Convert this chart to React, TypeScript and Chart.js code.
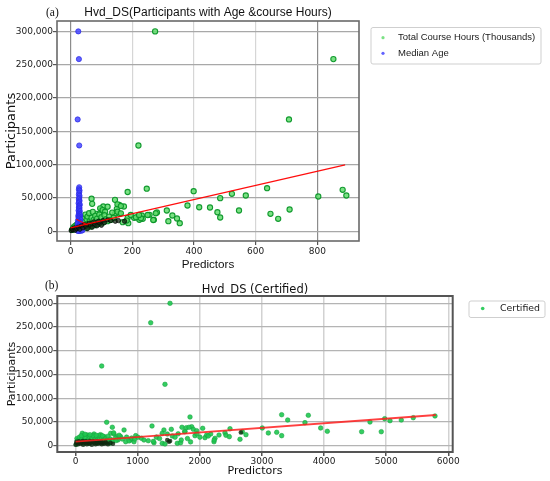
import React, { useEffect, useRef } from 'react';
import { Chart, registerables } from 'chart.js';

Chart.register(...registerables);

// ---------- Panel (a) data ----------
const courseHoursPoints: number[][] = [
  [274, 300000], [852, 258400], [708, 167800], [220, 128700],
  [185, 58900], [247, 63800], [399, 60100], [379, 38600], [417, 36000], [452, 35600], [476, 28500],
  [485, 49600], [485, 20600], [523, 56200], [546, 31100], [568, 53600], [637, 64600], [648, 26100],
  [673, 18600], [710, 32600], [803, 52100], [882, 62200], [894, 53600],
  [270, 17100], [256, 24600], [280, 28100], [312, 31100], [317, 15000], [330, 23600], [345, 19100], [354, 12000],
  [217, 21000], [231, 23600], [223, 17100], [206, 20100], [234, 18600], [185, 20100], [187, 12000], [182, 16000],
  [144, 47100], [173, 37100], [158, 39600], [150, 33600], [144, 26100], [158, 26100], [169, 13500],
  [68, 48700], [70, 41100], [106, 37100], [101, 32100], [85, 26100],
  [96, 34400], [104, 31800], [112, 29300], [120, 36800], [152, 40400], [163, 37800], [152, 29300], [163, 26900],
  [195, 24300], [212, 20900], [228, 19400], [222, 24300], [250, 24300], [276, 26900], [268, 16800],
  [5, 2000], [8, 4000], [10, 6000], [12, 3000], [15, 8000], [18, 5000], [20, 10000], [22, 7000], [25, 12000],
  [28, 4000], [30, 9000], [33, 15000], [35, 6000], [38, 11000], [40, 20000], [42, 8000], [45, 14000], [48, 25000],
  [50, 5000], [52, 18000], [55, 22000], [58, 10000], [60, 27000], [62, 15000], [65, 7000], [68, 20000], [70, 12000],
  [72, 29000], [75, 17000], [78, 9000], [80, 23000], [83, 14000], [86, 19000], [90, 11000], [93, 25000], [97, 16000],
  [100, 21000], [105, 13000], [110, 24000], [115, 18000], [120, 15000], [125, 22000], [130, 17000], [135, 28000], [140, 20000],
];

const medianAgePoints: number[][] = [
  [25, 300000], [27, 258400], [23, 167800], [28, 128700],
  [28, 66000], [27, 63000], [29, 61000], [28, 58000], [27, 55000], [29, 53000], [28, 50000], [27, 48000],
  [29, 46000], [28, 44000], [26, 42000], [30, 40000], [28, 38000], [27, 36000], [29, 35000], [28, 33000],
  [26, 31000], [30, 30000], [28, 28000], [27, 26000], [29, 25000], [31, 24000], [25, 23000], [28, 22000],
  [30, 21000], [26, 20000], [29, 19000], [27, 18000], [32, 17000], [24, 16000], [28, 15000], [30, 14000],
  [26, 13000], [33, 12000], [23, 11000], [29, 10000], [31, 9000], [27, 8000], [35, 7000], [22, 6000],
  [30, 5000], [25, 4000], [33, 3500], [28, 3000], [36, 2500], [21, 2000], [31, 1500], [26, 1000],
  [34, 800], [29, 500], [38, 1200], [24, 300],
];

const denseAPoints: number[][] = [
  [2, 1000], [5, 3000], [8, 2000], [12, 5000], [15, 1500], [20, 4000], [25, 6000], [30, 3000], [35, 8000],
  [40, 5000], [45, 10000], [50, 7000], [55, 4000], [60, 12000], [65, 9000], [70, 6000], [75, 14000], [80, 10000],
  [85, 8000], [90, 15000], [95, 12000], [100, 9000], [105, 16000], [110, 13000], [120, 17000], [130, 16000],
  [145, 15000], [155, 16000], [175, 15000],
];

const fitCourseA: number[][] = [[0, 5000], [890, 99500]];
const fitAgeA: number[][] = [[19, 17900], [55, 9300]];

const xTicksA = [0, 200, 400, 600, 800];
const yTicks = [0, 50000, 100000, 150000, 200000, 250000, 300000];

// ---------- Panel (b) data ----------
const certifiedPoints: number[][] = [
  [1519, 300000], [1208, 259100], [419, 167900], [1438, 129300], [499, 49300], [590, 38800], [1229, 41500], [1841, 60500],
  [3317, 65300], [3414, 54100], [3746, 64000], [3692, 48500], [3945, 37300], [4052, 30300], [4605, 29500], [4739, 49900],
  [4921, 29500], [4976, 56900], [5061, 52700], [5243, 54100], [5436, 59000], [5786, 62600], [3005, 37300], [3102, 26800],
  [3237, 28200], [3317, 21100],
  [1868, 40000], [1894, 34500], [1948, 31600], [1921, 21100], [2045, 36600], [2082, 16900], [2109, 22500], [2174, 24600],
  [2135, 20400], [2243, 15600], [2227, 8400], [2308, 22500], [2404, 27400], [2420, 21900], [2485, 35800], [2474, 19000],
  [2646, 13500], [2683, 29500], [2742, 23200],
  [779, 33100], [1421, 33100], [1540, 34500], [1712, 38800], [1755, 29500], [1781, 37900], [1825, 38800],
  [1636, 5000], [1690, 6300], [966, 21100], [1057, 15600], [1169, 10500], [1261, 6300], [724, 19000], [805, 8400],
  [886, 12000], [939, 8400], [1394, 26100], [1475, 24600], [1394, 5000], [1438, 3600], [1556, 20400], [563, 26100],
  [617, 24600], [670, 19000], [106, 26100], [187, 22500], [295, 24600], [402, 23200],
  [1100, 12000], [1250, 9000], [1300, 18000], [1350, 15000], [1600, 18000], [1650, 25000], [1700, 12000], [1800, 15000],
  [1850, 8000], [1950, 25000], [2000, 18000], [1760, 30000], [2230, 12000],
  [20, 15000], [40, 12000], [60, 18000], [80, 9000], [100, 14000], [120, 20000], [140, 11000], [160, 17000], [180, 8000],
  [200, 13000], [220, 19000], [240, 10000], [260, 16000], [280, 21000], [300, 12000], [320, 7000], [340, 18000], [360, 14000],
  [380, 22000], [400, 9000], [420, 16000], [440, 12000], [460, 19000], [480, 15000], [500, 11000], [520, 20000], [540, 8000],
  [560, 14000], [600, 10000], [640, 16000], [680, 12000], [700, 22000], [750, 14000], [820, 18000], [860, 10000], [900, 16000],
  [950, 14000], [1000, 18000], [30, 5000], [90, 21000], [150, 24000], [230, 23000], [330, 22000], [430, 21000], [610, 27000],
  [650, 11000], [10, 3000], [50, 7000], [130, 6000], [210, 5000], [350, 6000], [470, 7000], [550, 5000],
];

const denseBPoints: number[][] = [
  [0, 2000], [20, 5000], [40, 3000], [60, 7000], [80, 4000], [100, 6000], [120, 2000], [140, 8000], [160, 5000],
  [180, 3000], [200, 7000], [220, 4000], [240, 6000], [260, 2000], [280, 8000], [300, 5000], [320, 3000], [340, 6000],
  [360, 4000], [380, 7000], [400, 5000], [420, 3000], [440, 6000], [460, 4000], [480, 8000], [500, 5000], [520, 3000],
  [560, 6000], [600, 4000], [10, 8000], [50, 9000], [110, 10000], [170, 9000], [230, 10000], [290, 9000], [350, 10000],
  [410, 9000], [1475, 12000], [1503, 8400], [1520, 10000], [2660, 28000],
];

const fitCertifiedB: number[][] = [[0, 8400], [5800, 64700]];
const xTicksB = [0, 1000, 2000, 3000, 4000, 5000, 6000];

// ---------- helpers ----------
const toXY = (arr: number[][]) => arr.map(([x, y]) => ({ x, y }));
const fmtThousands = (v: number) => Math.round(v).toLocaleString('en-US');

const SANS = "'DejaVu Sans', sans-serif";
const LIB = "'Liberation Sans', 'DejaVu Sans', sans-serif";
const NARROW = "'Liberation Sans Narrow', 'Liberation Sans', sans-serif";
const SERIF = "'Liberation Serif', 'DejaVu Serif', serif";

function fontAvailable(name: string): boolean {
  try {
    const c = document.createElement('canvas').getContext('2d');
    if (!c) return false;
    const s = 'Total Course Hours (Thousands) 0123456789';
    c.font = '20px monospace';
    const a = c.measureText(s).width;
    c.font = `20px '${name}', monospace`;
    const b = c.measureText(s).width;
    return Math.abs(a - b) > 0.5;
  } catch (e) {
    return false;
  }
}

const framePlugin = {
  id: 'frame',
  afterDraw(chart: any, _a: any, opts: any) {
    const { ctx, chartArea } = chart;
    ctx.save();
    ctx.strokeStyle = opts.color || '#555';
    ctx.lineWidth = opts.width || 1.5;
    ctx.strokeRect(chartArea.left, chartArea.top, chartArea.right - chartArea.left, chartArea.bottom - chartArea.top);
    ctx.restore();
  },
};

const boxLegendPlugin = {
  id: 'boxLegend',
  afterDraw(chart: any, _a: any, opts: any) {
    if (!opts || !opts.items) return;
    const ctx = chart.ctx;
    ctx.save();
    const bx = opts.x, by = opts.y, bw = opts.w, bh = opts.h, r = 2;
    ctx.strokeStyle = '#cfcfcf';
    ctx.lineWidth = 1;
    ctx.fillStyle = 'rgba(255,255,255,0.9)';
    ctx.beginPath();
    ctx.moveTo(bx + r, by);
    ctx.lineTo(bx + bw - r, by);
    ctx.quadraticCurveTo(bx + bw, by, bx + bw, by + r);
    ctx.lineTo(bx + bw, by + bh - r);
    ctx.quadraticCurveTo(bx + bw, by + bh, bx + bw - r, by + bh);
    ctx.lineTo(bx + r, by + bh);
    ctx.quadraticCurveTo(bx, by + bh, bx, by + bh - r);
    ctx.lineTo(bx, by + r);
    ctx.quadraticCurveTo(bx, by, bx + r, by);
    ctx.closePath();
    ctx.fill();
    ctx.stroke();
    ctx.font = opts.font;
    ctx.textBaseline = 'middle';
    ctx.textAlign = 'left';
    const items: number[] = opts.items;
    for (let i = 0; i < items.length; i++) {
      const ds = chart.data.datasets[items[i]];
      const cy = opts.rowY + i * opts.rowH;
      ctx.beginPath();
      ctx.arc(opts.dotX, cy, opts.dotR, 0, Math.PI * 2);
      ctx.fillStyle = ds.backgroundColor;
      ctx.fill();
      ctx.fillStyle = '#1a1a1a';
      ctx.fillText(ds.label, opts.textX, cy);
    }
    ctx.restore();
  },
};

const tagPlugin = {
  id: 'tag',
  afterDraw(chart: any, _a: any, opts: any) {
    if (!opts || !opts.text) return;
    const ctx = chart.ctx;
    ctx.save();
    ctx.font = opts.font;
    ctx.fillStyle = '#111';
    ctx.textBaseline = 'middle';
    ctx.textAlign = 'left';
    ctx.fillText(opts.text, opts.x, opts.y);
    ctx.restore();
  },
};

function ChartA() {
  const ref = useRef<HTMLCanvasElement>(null);
  useEffect(() => {
    if (!ref.current) return;
    const narrow = fontAvailable('Liberation Sans Narrow');
    const titleFont = narrow ? { family: NARROW, size: 14, lineHeight: 1 } : { family: LIB, size: 12, lineHeight: 1 };
    const xTitleFont = narrow ? { family: NARROW, size: 14, lineHeight: 1.2 } : { family: LIB, size: 11.7, lineHeight: 1.2 };
    const legendFont = narrow ? `11.4px ${NARROW}` : `9.5px ${LIB}`;
    const titleH = titleFont.size * titleFont.lineHeight;
    const titleTop = 12.7 - titleH / 2;
    const chart = new Chart(ref.current, {
      type: 'scatter',
      data: {
        datasets: [
          { label: 'fit-age', data: toXY(fitAgeA), showLine: true, borderColor: 'rgba(255,0,0,0.9)', borderWidth: 1.2, pointRadius: 0, backgroundColor: 'red' },
          { label: 'fit-hours', data: toXY(fitCourseA), showLine: true, borderColor: 'rgba(255,0,0,0.95)', borderWidth: 1.2, pointRadius: 0, backgroundColor: 'red' },
          { label: 'dense', data: toXY(denseAPoints), pointRadius: 2.2, borderWidth: 0.8, backgroundColor: 'rgba(20,40,20,0.75)', borderColor: 'rgba(0,0,0,0.8)' },
          { label: 'Median Age', data: toXY(medianAgePoints), pointRadius: 2.6, borderWidth: 0.8, backgroundColor: 'rgba(70,70,255,0.85)', borderColor: 'rgba(40,40,230,0.9)' },
          { label: 'Total Course Hours (Thousands)', data: toXY(courseHoursPoints), pointRadius: 2.6, borderWidth: 1.1, backgroundColor: 'rgba(100,220,110,0.85)', borderColor: 'rgba(10,150,40,0.95)' },
        ],
      },
      options: {
        animation: false,
        responsive: false,
        events: [],
        layout: { padding: { left: 0, right: 191, top: 0, bottom: 0 } },
        plugins: {
          legend: { display: false },
          tooltip: { enabled: false },
          title: {
            display: true,
            text: 'Hvd_DS(Participants with Age &course Hours)',
            fullSize: false,
            color: '#111',
            font: { ...titleFont, weight: 'normal' },
            padding: { top: titleTop, bottom: 21 - titleTop - titleH },
          },
          frame: { color: '#6a6a6a', width: 1.6 },
          boxLegend: {
            x: 371, y: 27.5, w: 170, h: 36.5,
            items: [4, 3], rowY: 37.7, rowH: 15.6, dotX: 383, dotR: 1.6, textX: 398,
            font: legendFont,
          },
          tag: { text: '(a)', x: 46, y: 12.5, font: `11.5px ${SERIF}` },
        } as any,
        scales: {
          x: {
            type: 'linear',
            min: -44,
            max: 935,
            afterFit: (s: any) => { s.height = 34; },
            afterBuildTicks: (s: any) => { s.ticks = xTicksA.map((v) => ({ value: v })); },
            ticks: { color: '#1a1a1a', font: { family: SANS, size: 9 }, padding: 1, callback: (v: any) => String(v), maxRotation: 0 },
            grid: {
              color: (c: any) => (c.tick && (c.tick.value === 0 || c.tick.value === 800) ? '#8c8c8c' : '#d6d6d6'),
              lineWidth: 1.2,
              tickLength: 4,
              tickColor: '#555',
            },
            border: { display: false },
            title: { display: true, text: 'Predictors', color: '#111', font: xTitleFont, padding: { top: 0, bottom: 3 } },
          },
          y: {
            type: 'linear',
            min: -14700,
            max: 315600,
            afterFit: (s: any) => { s.width = 57; },
            afterBuildTicks: (s: any) => { s.ticks = yTicks.map((v) => ({ value: v })); },
            ticks: { color: '#1a1a1a', font: { family: SANS, size: 9 }, padding: 0, callback: (v: any) => fmtThousands(v) },
            grid: { color: '#a8a8a8', lineWidth: 1.2, tickLength: 4, tickColor: '#555' },
            border: { display: false },
            title: { display: true, text: 'Participants', color: '#111', font: { family: SANS, size: 13 }, padding: { top: 4.2, bottom: 0 } },
          },
        },
      },
      plugins: [framePlugin, boxLegendPlugin, tagPlugin],
    });
    return () => chart.destroy();
  }, []);
  return <canvas ref={ref} width={550} height={275} style={{ position: 'absolute', left: 0, top: 0, display: 'block' }} />;
}

function ChartB() {
  const ref = useRef<HTMLCanvasElement>(null);
  useEffect(() => {
    if (!ref.current) return;
    const chart = new Chart(ref.current, {
      type: 'scatter',
      data: {
        datasets: [
          { label: 'fit', data: toXY(fitCertifiedB), showLine: true, borderColor: 'rgba(255,30,30,0.85)', borderWidth: 1.8, pointRadius: 0, backgroundColor: 'red' },
          { label: 'dense', data: toXY(denseBPoints), pointRadius: 2.3, borderWidth: 0, backgroundColor: 'rgba(15,40,15,0.8)' },
          { label: 'Certified', data: toXY(certifiedPoints), pointRadius: 2.3, borderWidth: 0.6, backgroundColor: 'rgba(30,200,80,0.9)', borderColor: 'rgba(20,160,60,0.9)' },
        ],
      },
      options: {
        animation: false,
        responsive: false,
        events: [],
        layout: { padding: { left: 0, right: 97.3, top: 0, bottom: 0 } },
        plugins: {
          legend: { display: false },
          tooltip: { enabled: false },
          title: {
            display: true,
            text: 'Hvd_DS (Certified)',
            fullSize: false,
            color: '#111',
            font: { family: SANS, size: 11.5, weight: 'normal', lineHeight: 1 },
            padding: { top: 6, bottom: 0.5 },
          },
          frame: { color: '#555', width: 2 },
          boxLegend: {
            x: 469, y: 23, w: 76, h: 16.5,
            items: [2], rowY: 30.5, rowH: 15, dotX: 482.7, dotR: 1.8, textX: 500,
            font: `9.4px ${SANS}`,
          },
          tag: { text: '(b)', x: 45, y: 7.5, font: `11.5px ${SERIF}` },
        } as any,
        scales: {
          x: {
            type: 'linear',
            min: -296,
            max: 6071,
            afterFit: (s: any) => { s.height = 29; },
            afterBuildTicks: (s: any) => { s.ticks = xTicksB.map((v) => ({ value: v })); },
            ticks: { color: '#1a1a1a', font: { family: SANS, size: 9 }, padding: 0, callback: (v: any) => String(v), maxRotation: 0 },
            grid: { color: '#d2d2d2', lineWidth: 1.5, tickLength: 4, tickColor: '#555' },
            border: { display: false },
            title: { display: true, text: 'Predictors', color: '#111', font: { family: SANS, size: 11 }, padding: { top: 0, bottom: 3.7 } },
          },
          y: {
            type: 'linear',
            min: -13300,
            max: 315400,
            afterFit: (s: any) => { s.width = 57.3; },
            afterBuildTicks: (s: any) => { s.ticks = yTicks.map((v) => ({ value: v })); },
            ticks: { color: '#1a1a1a', font: { family: SANS, size: 9 }, padding: 0, callback: (v: any) => fmtThousands(v) },
            grid: { color: '#b4b4b4', lineWidth: 1.2, tickLength: 4, tickColor: '#555' },
            border: { display: false },
            title: { display: true, text: 'Participants', color: '#111', font: { family: SANS, size: 11 }, padding: { top: 5.4, bottom: 0 } },
          },
        },
      },
      plugins: [framePlugin, boxLegendPlugin, tagPlugin],
    });
    return () => chart.destroy();
  }, []);
  return <canvas ref={ref} width={550} height={203} style={{ position: 'absolute', left: 0, top: 278, display: 'block' }} />;
}

export default function App() {
  return (
    <div style={{ position: 'absolute', left: 0, top: 0, width: 550, height: 481, background: '#ffffff', overflow: 'hidden' }}>
      <ChartA />
      <ChartB />
    </div>
  );
}
